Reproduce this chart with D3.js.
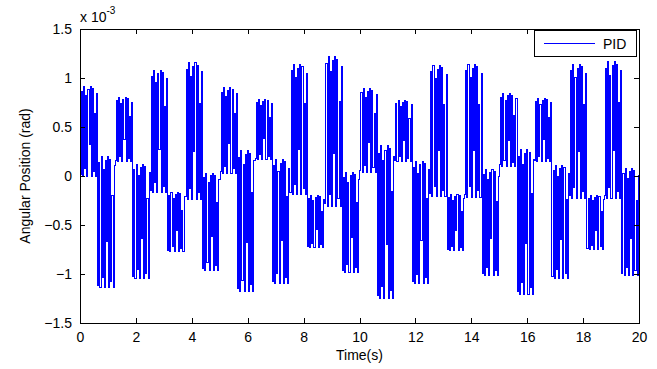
<!DOCTYPE html>
<html>
<head>
<meta charset="utf-8">
<script src="https://cdn.jsdelivr.net/npm/d3@7"></script>
<style>
  body { margin: 0; background: #fff; }
  svg { display: block; font-family: "Liberation Sans", Arial, sans-serif; }
</style>
</head>
<body>
<div id="chart"></div>
<script>
// segment start times (s), each block lasts 0.625 s
const segStart = [0, 0.625, 1.25, 1.875, 2.5, 3.125, 3.75, 4.375,
  5, 5.625, 6.25, 6.875, 7.5, 8.125, 8.75, 9.375,
  10, 10.625, 11.25, 11.875, 12.5, 13.125, 13.75, 14.375,
  15, 15.625, 16.25, 16.875, 17.5, 18.125, 18.75, 19.375];
// upper / lower envelope of each block (x 1e-3 rad)
const segHigh = [0.91, 0.20, 0.80, 0.12, 1.08, -0.17, 1.16, 0.03,
  0.90, 0.26, 0.78, 0.17, 1.14, -0.20, 1.22, 0.04,
  0.89, 0.31, 0.77, 0.15, 1.13, -0.19, 1.14, 0.07,
  0.84, 0.27, 0.79, 0.11, 1.14, -0.20, 1.17, 0.08];
const segLow = [0.00, -1.14, 0.15, -1.05, -0.17, -0.77, -0.24, -0.96,
  0.03, -1.18, 0.17, -1.10, -0.19, -0.73, -0.31, -0.98,
  0.04, -1.25, 0.15, -1.10, -0.21, -0.76, -0.22, -1.02,
  0.10, -1.21, 0.15, -1.05, -0.23, -0.75, -0.23, -1.02];
// turning points of the fast oscillation inside a block (fraction of the block span)
const turnLevels = [0.02, 0.95, 0.0, 1.0, 0.08, 0.9, 0.0, 0.97,
  0.35, 1.0, 0.0, 0.98, 0.05, 0.7, 0.0, 0.93];
const segDur = 0.625;

const xTicks = [0, 2, 4, 6, 8, 10, 12, 14, 16, 18, 20];
const yTicks = [-1.5, -1, -0.5, 0, 0.5, 1, 1.5];

const W = 657, H = 369;
const margin = { left: 80, top: 29, right: 18, bottom: 46 };
const iw = W - margin.left - margin.right;
const ih = H - margin.top - margin.bottom;

// build the oscillating trace from the block envelopes
const points = [];
segStart.forEach((t0, i) => {
  const hi = segHigh[i], lo = segLow[i], span = hi - lo;
  const n = turnLevels.length;
  turnLevels.forEach((p, k) => {
    points.push([t0 + (k + 0.3) * segDur / n, lo + span * p]);
  });
});
points.push([20, segLow[segLow.length - 1]]);

const svg = d3.select('#chart').append('svg')
  .attr('width', W).attr('height', H);

const x = d3.scaleLinear().domain([0, 20]).range([margin.left, margin.left + iw]);
const y = d3.scaleLinear().domain([-1.5, 1.5]).range([margin.top + ih, margin.top]);

svg.append('defs').append('clipPath').attr('id', 'clip')
  .append('rect').attr('x', margin.left).attr('y', margin.top)
  .attr('width', iw).attr('height', ih);

svg.append('path')
  .datum(points)
  .attr('clip-path', 'url(#clip)')
  .attr('fill', 'none')
  .attr('stroke', '#0000ff')
  .attr('stroke-width', 1)
  .attr('shape-rendering', 'crispEdges')
  .attr('d', d3.line().curve(d3.curveStepAfter).x(d => x(d[0])).y(d => y(d[1])));

// axes: ticks point inward, box on all sides
const axisStyle = g => {
  g.select('.domain').remove();
  g.selectAll('line').attr('stroke', '#000').attr('shape-rendering', 'crispEdges');
  g.selectAll('text').attr('fill', '#000').attr('font-size', '14px')
    .attr('font-family', '"Liberation Sans", Arial, sans-serif');
};

svg.append('g')
  .attr('transform', `translate(0,${margin.top + ih})`)
  .call(d3.axisBottom(x).tickValues(xTicks).tickSize(-5).tickPadding(9).tickFormat(d3.format('')))
  .call(axisStyle);
svg.append('g')
  .attr('transform', `translate(0,${margin.top})`)
  .call(d3.axisTop(x).tickValues(xTicks).tickSize(-5).tickFormat(''))
  .call(axisStyle);
svg.append('g')
  .attr('transform', `translate(${margin.left},0)`)
  .call(d3.axisLeft(y).tickValues(yTicks).tickSize(-5).tickPadding(8).tickFormat(d3.format('')))
  .call(axisStyle);
svg.append('g')
  .attr('transform', `translate(${margin.left + iw},0)`)
  .call(d3.axisRight(y).tickValues(yTicks).tickSize(-5).tickFormat(''))
  .call(axisStyle);

svg.append('rect')
  .attr('x', margin.left + 0.5).attr('y', margin.top + 0.5)
  .attr('width', iw).attr('height', ih)
  .attr('fill', 'none').attr('stroke', '#000').attr('stroke-width', 1);

// exponent label
const expo = svg.append('text')
  .attr('x', margin.left).attr('y', 22)
  .attr('font-size', '14px').attr('fill', '#000');
expo.append('tspan').text('x 10');
expo.append('tspan').attr('dy', -8).attr('font-size', '10px').text('-3');

// axis titles
svg.append('text')
  .attr('x', x(10)).attr('y', 360)
  .attr('text-anchor', 'middle').attr('font-size', '14px').attr('fill', '#000')
  .text('Time(s)');
svg.append('text')
  .attr('transform', `translate(30,${y(0)}) rotate(-90)`)
  .attr('text-anchor', 'middle').attr('font-size', '14px').attr('fill', '#000')
  .text('Angular Position (rad)');

// legend
const lg = svg.append('g').attr('transform', 'translate(534,30)');
lg.append('rect').attr('x', 0.5).attr('y', 0.5).attr('width', 102).attr('height', 26)
  .attr('fill', '#fff').attr('stroke', '#000').attr('stroke-width', 1);
lg.append('line').attr('x1', 10).attr('x2', 61).attr('y1', 13.5).attr('y2', 13.5)
  .attr('stroke', '#0000ff').attr('stroke-width', 1);
lg.append('text').attr('x', 69).attr('y', 19)
  .attr('font-size', '14px').attr('fill', '#000').text('PID');
</script>
</body>
</html>
